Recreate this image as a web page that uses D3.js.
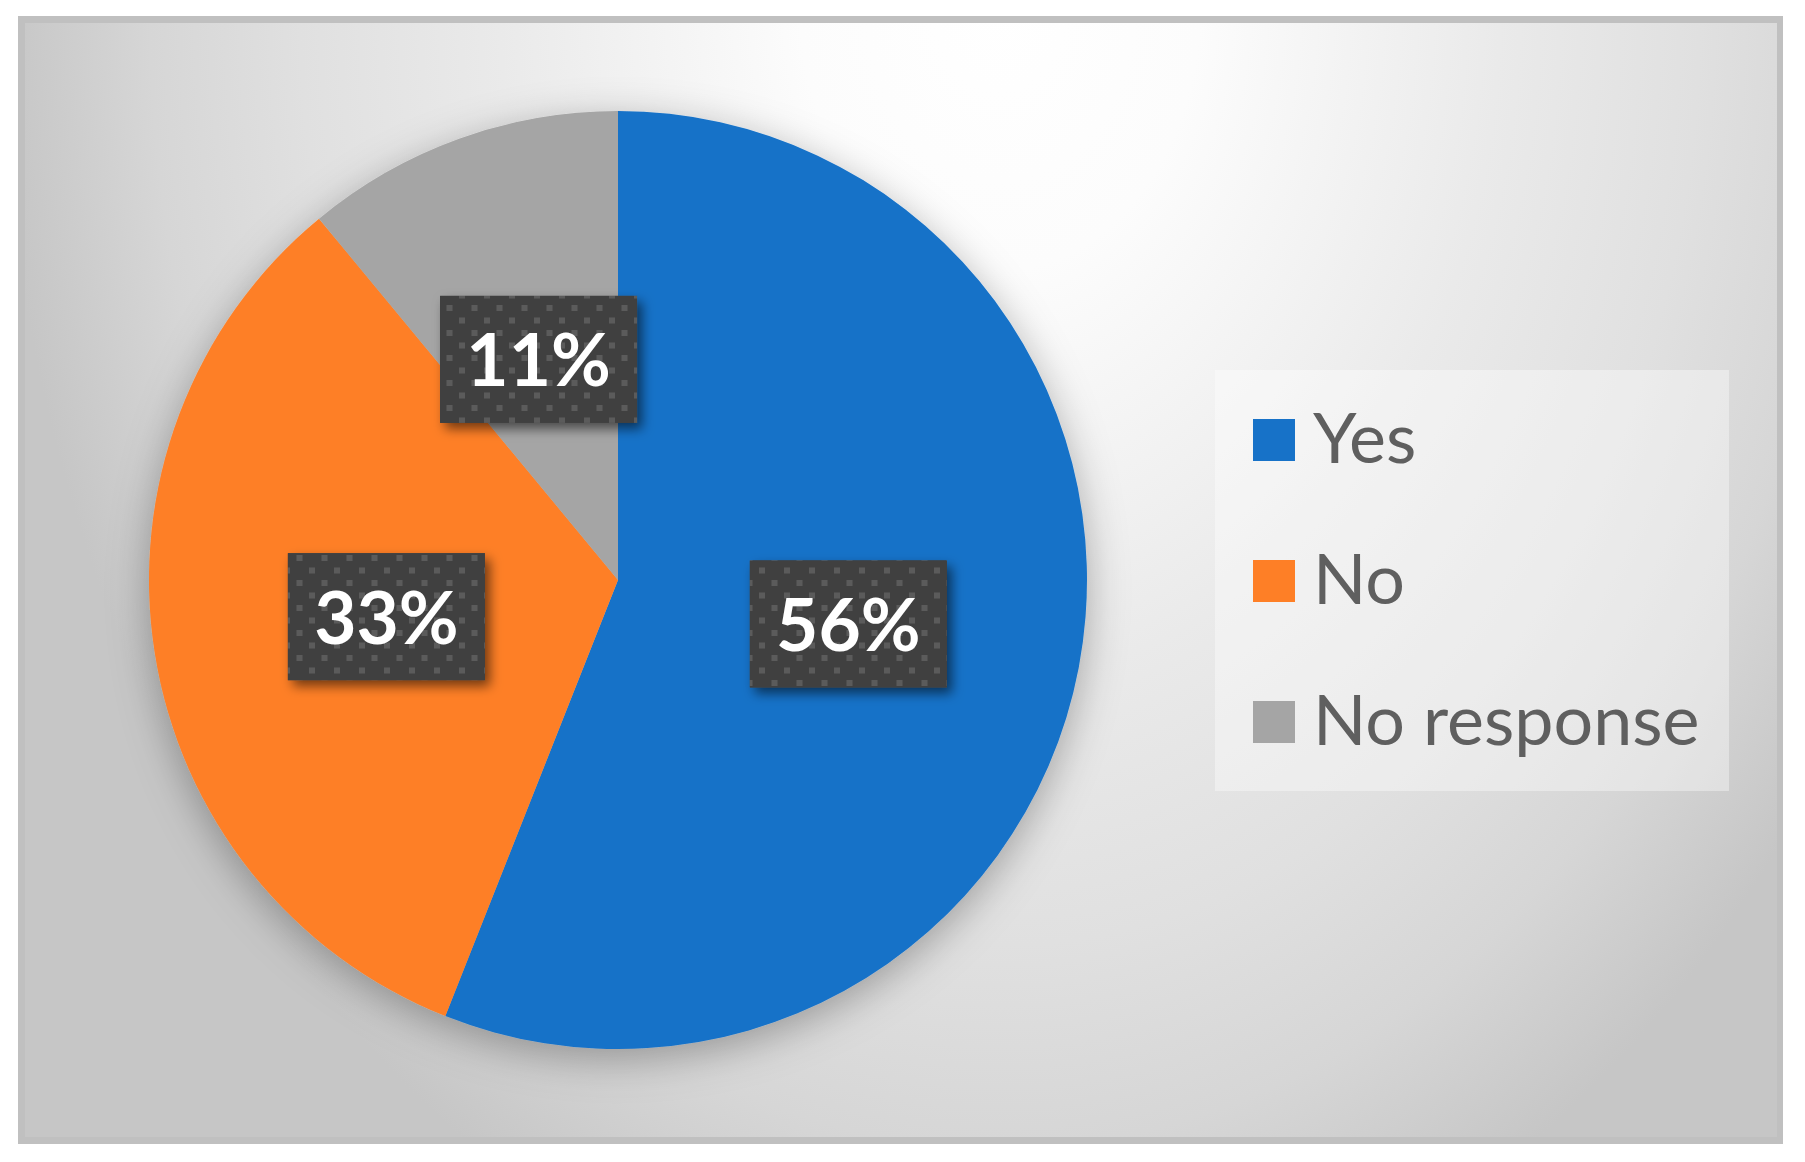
<!DOCTYPE html>
<html>
<head>
<meta charset="utf-8">
<script src="https://cdn.jsdelivr.net/npm/d3@7"></script>
<style>
  html, body { margin: 0; padding: 0; background: #ffffff; }
  svg { display: block; }
</style>
</head>
<body>
<svg id="chart" width="1805" height="1162"></svg>
<script>
// ---- data ----
const categories = ["Yes", "No", "No response"];
const values = [56, 33, 11];
const labels = ["56%", "33%", "11%"];
const colors = ["#1772C8", "#FE7F26", "#A5A5A5"];

// ---- layout ----
const W = 1805, H = 1162;
const svg = d3.select("#chart");
const defs = svg.append("defs");

// background gradient (elliptical, light spot at top centre-right)
const gcx = 1000, gcy = 0;
const bg = defs.append("radialGradient")
  .attr("id", "bgGrad")
  .attr("gradientUnits", "userSpaceOnUse")
  .attr("cx", 0).attr("cy", 0).attr("r", 1)
  .attr("gradientTransform", `translate(${gcx},${gcy}) scale(1000,1350)`);
[[0, "#ffffff"], [0.2, "#fcfcfc"], [0.5, "#eaeaea"], [0.7, "#e0e0e0"], [0.85, "#d6d6d6"], [1, "#c6c6c6"]]
  .forEach(s => bg.append("stop").attr("offset", s[0]).attr("stop-color", s[1]));

// pie shadow
const pf = defs.append("filter").attr("id", "pieShadow")
  .attr("x", "-25%").attr("y", "-25%").attr("width", "150%").attr("height", "150%");
pf.append("feDropShadow").attr("dx", 0).attr("dy", 10).attr("stdDeviation", 20)
  .attr("flood-color", "#000").attr("flood-opacity", 0.3);

// label box shadow
const lf = defs.append("filter").attr("id", "boxShadow")
  .attr("x", "-30%").attr("y", "-30%").attr("width", "160%").attr("height", "160%");
lf.append("feDropShadow").attr("dx", 5).attr("dy", 6).attr("stdDeviation", 6)
  .attr("flood-color", "#000").attr("flood-opacity", 0.55);

// dotted pattern
const pat = defs.append("pattern").attr("id", "dots")
  .attr("patternUnits", "userSpaceOnUse").attr("width", 25).attr("height", 25);
pat.append("rect").attr("width", 25).attr("height", 25).attr("fill", "#404040");
[[21.5, 5], [-3.5, 5], [9, 17.5], [21.5, -20], [9, -7.5]].forEach(p =>
  pat.append("rect").attr("x", p[0]).attr("y", p[1]).attr("width", 6).attr("height", 6).attr("fill", "#5b5b5b"));

// frame
svg.append("rect").attr("x", 18).attr("y", 16).attr("width", 1765).attr("height", 1128)
  .attr("fill", "#c0c0c0");
svg.append("rect").attr("x", 25).attr("y", 23).attr("width", 1752).attr("height", 1114)
  .attr("fill", "url(#bgGrad)");

// pie
const cx = 618, cy = 580, R = 469;
const pie = d3.pie().sort(null).value(d => d.value).startAngle(0).endAngle(2 * Math.PI);
const data = categories.map((c, i) => ({ cat: c, value: values[i], label: labels[i], color: colors[i] }));
const arcs = pie(data);
const arc = d3.arc().innerRadius(0).outerRadius(R);

const g = svg.append("g").attr("transform", `translate(${cx},${cy})`);
g.append("g").attr("filter", "url(#pieShadow)")
  .selectAll("path").data(arcs).join("path")
  .attr("d", arc)
  .attr("fill", d => d.data.color);

// labels
const bw = 197, bh = 127;
g.selectAll("rect.lblbox").data(arcs).join("rect").attr("class", "lblbox")
  .attr("x", d => arc.centroid(d)[0] - bw / 2)
  .attr("y", d => arc.centroid(d)[1] - bh / 2)
  .attr("width", bw).attr("height", bh)
  .attr("fill", "#404040").attr("filter", "url(#boxShadow)");
// pattern overlay in absolute coordinates
svg.append("g").selectAll("rect").data(arcs).join("rect")
  .attr("x", d => cx + arc.centroid(d)[0] - bw / 2)
  .attr("y", d => cy + arc.centroid(d)[1] - bh / 2)
  .attr("width", bw).attr("height", bh)
  .attr("fill", "url(#dots)");
svg.append("g").selectAll("text").data(arcs).join("text")
  .attr("x", d => cx + arc.centroid(d)[0])
  .attr("y", d => cy + arc.centroid(d)[1] + 27)
  .attr("text-anchor", "middle")
  .attr("font-family", "Lato, 'Open Sans', sans-serif")
  .attr("font-weight", "bold")
  .attr("font-size", 73)
  .attr("fill", "#ffffff")
  .text(d => d.data.label);

// legend
const legX = 1215, legY = 370, legW = 514, legH = 421;
svg.append("rect").attr("x", legX).attr("y", legY).attr("width", legW).attr("height", legH)
  .attr("fill", "#ffffff").attr("fill-opacity", 0.38);
const legScale = d3.scalePoint().domain(categories).range([440, 722]);
const leg = svg.append("g").selectAll("g").data(data).join("g")
  .attr("transform", d => `translate(0,${legScale(d.cat)})`);
leg.append("rect").attr("x", 1253).attr("y", -21).attr("width", 42).attr("height", 42)
  .attr("fill", d => d.color);
leg.append("text").attr("x", 1313).attr("y", 23)
  .attr("font-family", "Lato, 'Open Sans', sans-serif")
  .attr("font-size", 70)
  .attr("fill", "#5f5f5f")
  .text(d => d.cat);
</script>
</body>
</html>
